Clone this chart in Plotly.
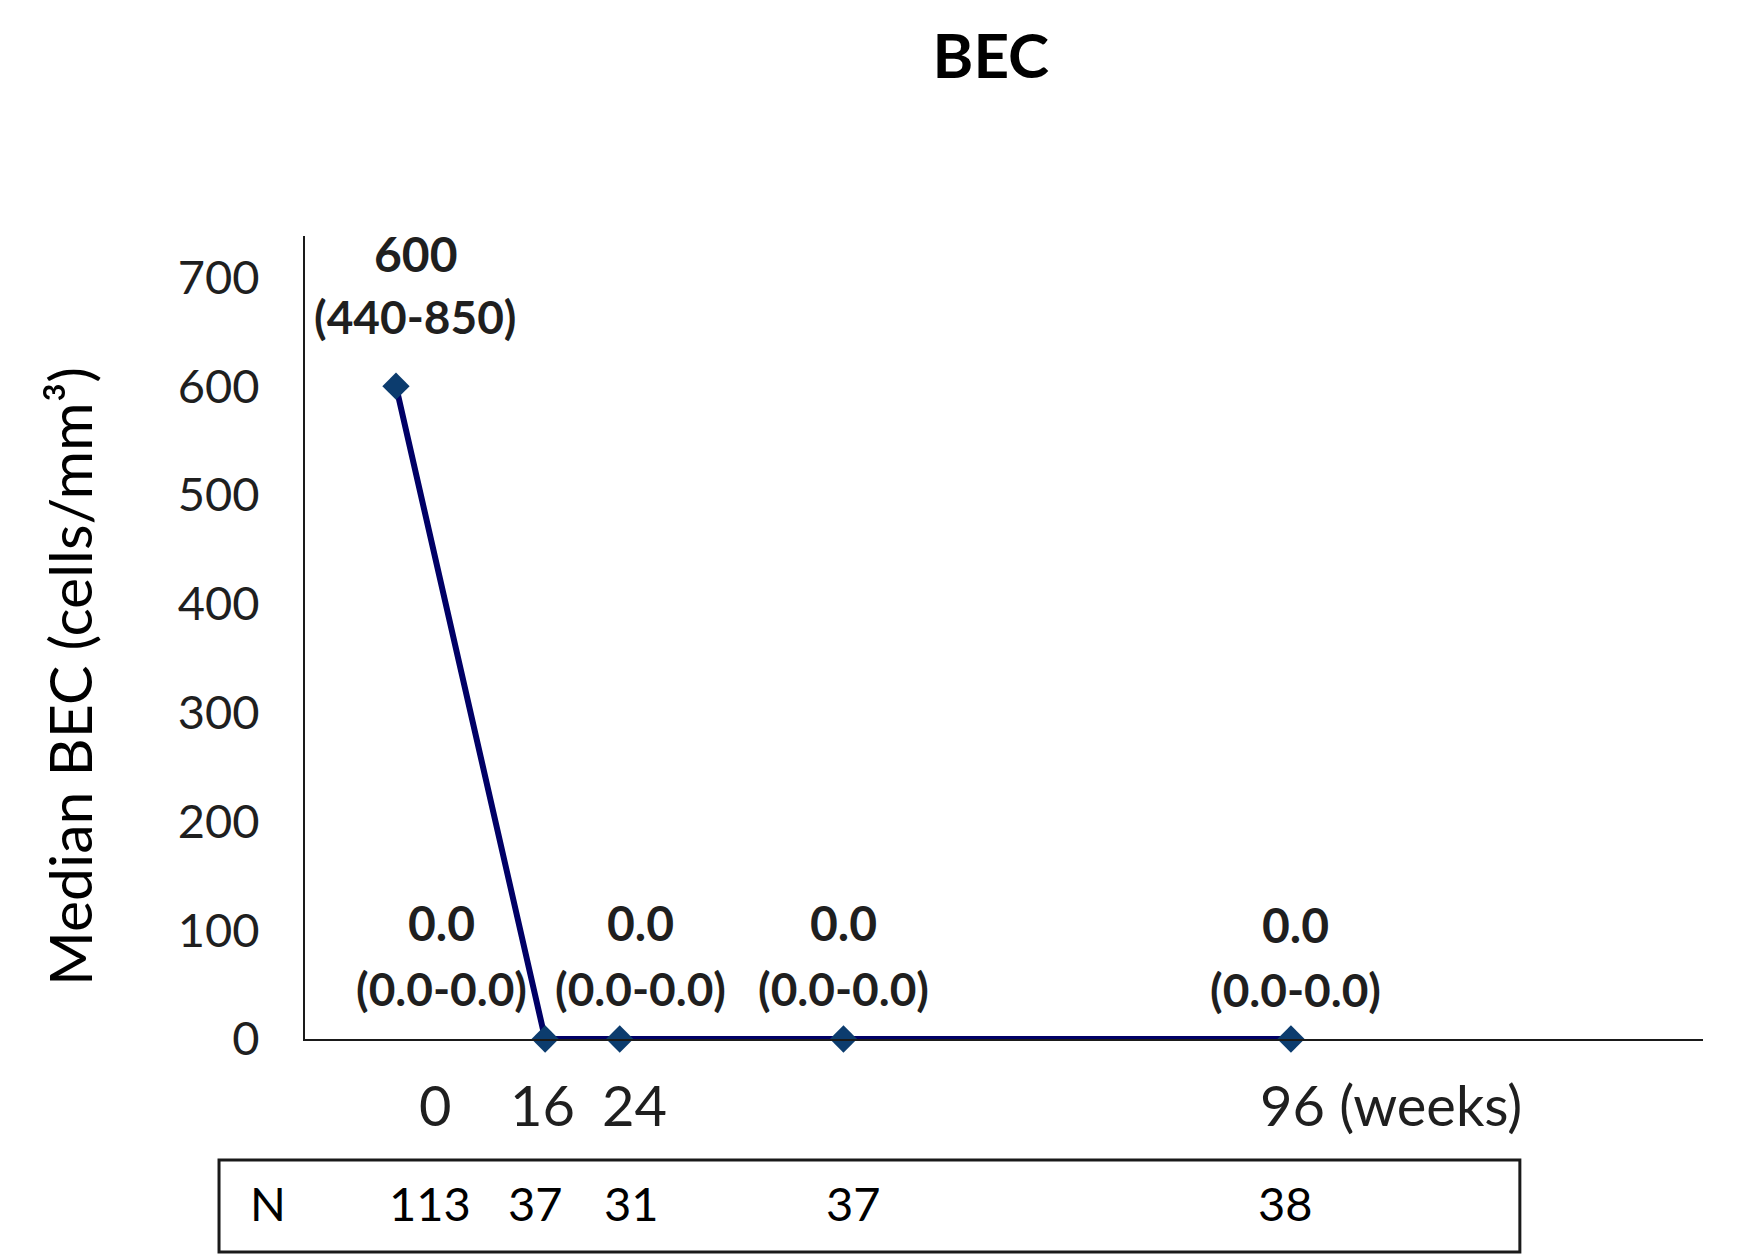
import plotly.graph_objects as go

# ---- data ----
weeks = [0, 16, 24, 48, 96]
median_bec = [600, 0, 0, 0, 0]
median_labels = ["600", "0.0", "0.0", "0.0", "0.0"]
iqr_labels = ["(440-850)", "(0.0-0.0)", "(0.0-0.0)", "(0.0-0.0)", "(0.0-0.0)"]
n_patients = [113, 37, 31, 37, 38]
xtick_weeks = [0, 16, 24, 96]
xtick_text = ["0", "16", "24", "96 (weeks)"]
ytick_vals = [0, 100, 200, 300, 400, 500, 600, 700]

# ---- styling ----
FONT = "Lato"
TXT = "#1f1f1f"
label_xshift = [20, -104, 21, 0, 5]
median_yshift = [133, 117, 117, 117, 115]
iqr_yshift = [70, 51, 51, 51, 50]
xtick_xshift = [39, -3, 15, -33]
n_xshift = [34, -10, 12, 10, -5]

fig = go.Figure()
fig.add_trace(go.Scatter(
    x=weeks, y=median_bec, mode="lines+markers",
    line=dict(color="#000066", width=6),
    marker=dict(symbol="diamond", size=21, color="#0c3c6e"),
    cliponaxis=False, showlegend=False, hoverinfo="skip"))

ann = []
for i, w in enumerate(weeks):
    ann.append(dict(x=w, y=median_bec[i], xref="x", yref="y",
                    text="<b>%s</b>" % median_labels[i], showarrow=False,
                    xshift=label_xshift[i], yshift=median_yshift[i],
                    font=dict(family=FONT, size=48, color=TXT)))
    ann.append(dict(x=w, y=median_bec[i], xref="x", yref="y",
                    text="<b>%s</b>" % iqr_labels[i], showarrow=False,
                    xshift=label_xshift[i], yshift=iqr_yshift[i],
                    font=dict(family=FONT, size=46, color=TXT)))

for i, w in enumerate(xtick_weeks):
    last = i == len(xtick_weeks) - 1
    ann.append(dict(x=w, y=-0.082, xref="x", yref="paper",
                    text=xtick_text[i], showarrow=False,
                    xanchor="left" if last else "center", yanchor="middle",
                    xshift=xtick_xshift[i],
                    font=dict(family=FONT, size=56, color=TXT)))

# N table
ann.append(dict(x=-0.0265, y=-0.204, xref="paper", yref="paper", text="N",
                showarrow=False, xanchor="center", yanchor="middle",
                font=dict(family=FONT, size=47, color="#000000")))
for i, w in enumerate(weeks):
    ann.append(dict(x=w, y=-0.204, xref="x", yref="paper", text=str(n_patients[i]),
                    showarrow=False, xanchor="center", yanchor="middle",
                    xshift=n_xshift[i],
                    font=dict(family=FONT, size=47, color="#000000")))

# y-axis title
ann.append(dict(x=-0.168, y=0.451, xref="paper", yref="paper",
                text="Median BEC (cells/mm³)", textangle=-90, showarrow=False,
                xanchor="center", yanchor="middle",
                font=dict(family=FONT, size=59, color="#000000")))

fig.update_layout(
    width=1763, height=1258,
    margin=dict(l=297, r=68, t=228, b=227),
    paper_bgcolor="white", plot_bgcolor="white",
    title=dict(text="<b>BEC</b>", x=0.5575, xanchor="center",
               y=0.962, yanchor="middle",
               font=dict(family=FONT, size=62, color="#000000")),
    annotations=ann,
    shapes=[dict(type="rect", xref="paper", yref="paper",
                 x0=-0.0615, x1=0.869, y0=-0.2653, y1=-0.1507,
                 line=dict(color="#1a1a1a", width=3))],
    xaxis=dict(range=[-9.76, 140.2], showline=True, linecolor="#1a1a1a",
               linewidth=2, showgrid=False, zeroline=False,
               showticklabels=False, ticks=""),
    yaxis=dict(range=[0, 738], showline=True, linecolor="#1a1a1a",
               linewidth=2, showgrid=False, zeroline=False,
               tickvals=ytick_vals, ticks="", ticklabelstandoff=34,
               tickfont=dict(family=FONT, size=47, color=TXT)),
)

fig.write_html("out.html")
